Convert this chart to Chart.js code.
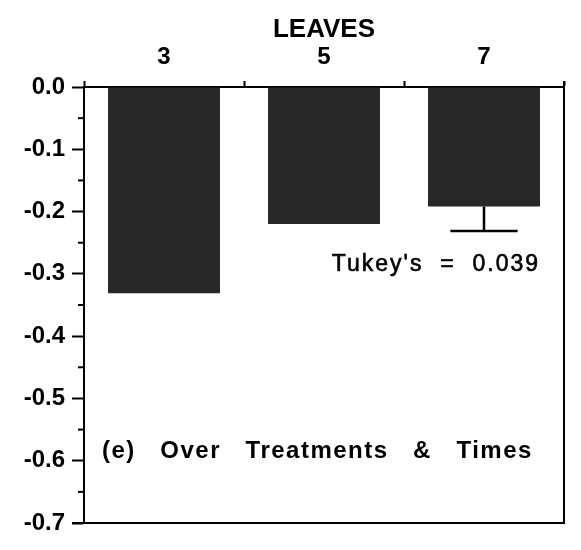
<!DOCTYPE html>
<html>
<head>
<meta charset="utf-8">
<script src="https://cdn.jsdelivr.net/npm/chart.js@4/dist/chart.umd.min.js"></script>
<style>
    html, body { margin: 0; padding: 0; background: #fff; }
</style>
</head>
<body>
<canvas id="leafChart" width="581" height="550"></canvas>
<script>
// Data
const leafCounts = ['3', '5', '7'];
const meanChange = [-0.331, -0.220, -0.192];
const tukeyHSD = 0.039;
const tukeyBarIndex = 2;

const FONT = '"Liberation Sans", Arial, Helvetica, sans-serif';

// Frame, minor ticks, error bar and text notes
const extrasPlugin = {
    id: 'extras',
    afterDraw(chart) {
        const ctx = chart.ctx;
        const area = chart.chartArea;
        const y = chart.scales.y;

        ctx.save();
        ctx.strokeStyle = '#000';
        ctx.lineWidth = 2;

        // right and bottom edges of the box
        ctx.beginPath();
        ctx.moveTo(area.right, area.top - 6);
        ctx.lineTo(area.right, area.bottom);
        ctx.lineTo(area.left - 12, area.bottom);
        ctx.stroke();

        // minor ticks between labelled values
        for (let v = -0.05; v > -0.7; v -= 0.1) {
            const py = y.getPixelForValue(v);
            ctx.beginPath();
            ctx.moveTo(area.left - 6, py);
            ctx.lineTo(area.left, py);
            ctx.stroke();
        }

        // Tukey's error bar
        const bar = chart.getDatasetMeta(0).data[tukeyBarIndex];
        const yTop = y.getPixelForValue(meanChange[tukeyBarIndex]);
        const yLow = y.getPixelForValue(meanChange[tukeyBarIndex] - tukeyHSD);
        const half = bar.width * 0.3;
        ctx.lineWidth = 2.5;
        ctx.beginPath();
        ctx.moveTo(bar.x, yTop);
        ctx.lineTo(bar.x, yLow);
        ctx.moveTo(bar.x - half, yLow);
        ctx.lineTo(bar.x + half, yLow);
        ctx.stroke();

        // notes
        ctx.fillStyle = '#000';
        ctx.textBaseline = 'middle';
        ctx.textAlign = 'right';
        ctx.font = '23px ' + FONT;
        ctx.letterSpacing = '2px';
        ctx.lineWidth = 0.6;
        const tk = "Tukey's  =  " + tukeyHSD.toFixed(3);
        const tkY = y.getPixelForValue(-0.286);
        ctx.fillText(tk, area.right - 24, tkY);
        ctx.strokeText(tk, area.right - 24, tkY);

        ctx.textAlign = 'left';
        ctx.font = 'bold 24px ' + FONT;
        ctx.letterSpacing = '1.5px';
        ctx.fillText('(e)   Over   Treatments   &   Times', area.left + 18, y.getPixelForValue(-0.585));
        ctx.restore();
    }
};

const tickFont = { family: FONT, size: 24, weight: 'bold' };

new Chart(document.getElementById('leafChart'), {
    type: 'bar',
    data: {
        labels: leafCounts,
        datasets: [{
            data: meanChange,
            backgroundColor: '#282828',
            borderWidth: 0,
            barPercentage: 0.7,
            categoryPercentage: 1.0
        }]
    },
    options: {
        responsive: false,
        animation: false,
        layout: { padding: { left: 0, top: 0, right: 17, bottom: 27 } },
        plugins: {
            legend: { display: false },
            tooltip: { enabled: false }
        },
        scales: {
            x: {
                type: 'category',
                position: 'top',
                offset: true,
                grid: {
                    offset: true,
                    drawOnChartArea: false,
                    tickLength: 6,
                    tickColor: '#000',
                    tickWidth: 2
                },
                border: { display: true, color: '#000', width: 2 },
                ticks: { color: '#000', font: tickFont, padding: 9 },
                title: {
                    display: true,
                    text: 'LEAVES',
                    color: '#000',
                    font: { family: FONT, size: 26, weight: 'bold' },
                    padding: { top: 14, bottom: 0 }
                },
                afterFit: (scale) => { scale.height = 87; }
            },
            y: {
                min: -0.7,
                max: 0,
                position: 'left',
                ticks: {
                    stepSize: 0.1,
                    color: '#000',
                    font: tickFont,
                    padding: 7,
                    callback: (v) => Number(v).toFixed(1)
                },
                grid: {
                    drawOnChartArea: false,
                    tickLength: 12,
                    tickColor: '#000',
                    tickWidth: 2
                },
                border: { display: true, color: '#000', width: 2 },
                afterFit: (scale) => { scale.width = 84; }
            }
        }
    },
    plugins: [extrasPlugin]
});
</script>
</body>
</html>
